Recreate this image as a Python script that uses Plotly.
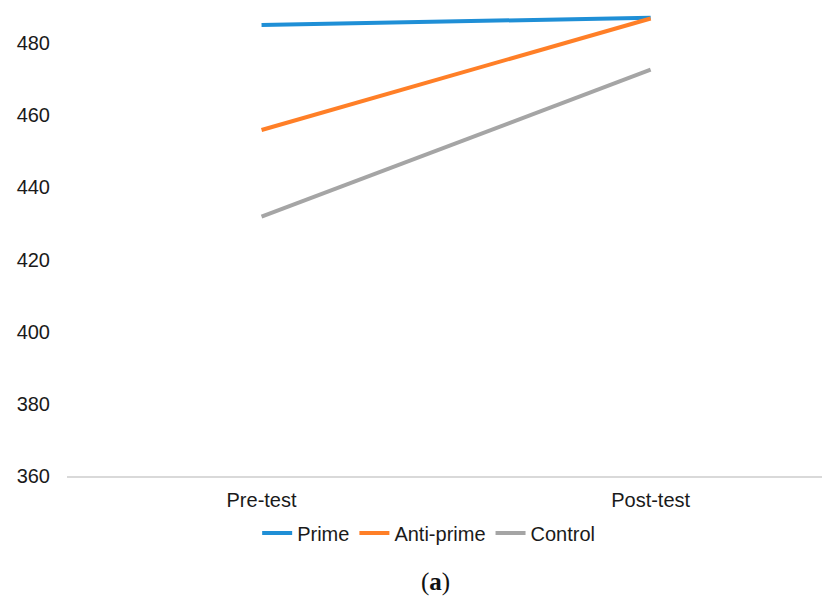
import plotly.graph_objects as go

categories = ["Pre-test", "Post-test"]
prime = [485.0, 487.0]
anti_prime = [455.9, 486.8]
control = [431.9, 472.6]
series_names = ["Prime", "Anti-prime", "Control"]
colors = ["#1f8fd6", "#ff7f27", "#a5a5a5"]
y_ticks = [360, 380, 400, 420, 440, 460, 480]

fig = go.Figure()
for name, vals, col in zip(series_names, [prime, anti_prime, control], colors):
    fig.add_trace(go.Scatter(x=categories, y=vals, mode="lines", name=name,
                             line=dict(color=col, width=4)))

font = dict(family="Liberation Sans, Arial, sans-serif", size=20, color="#1a1a1a")
fig.update_layout(
    width=822, height=588,
    margin=dict(l=59, r=0, t=0, b=120),
    paper_bgcolor="white", plot_bgcolor="white",
    font=font,
    xaxis=dict(type="category", range=[-0.5, 1.461], showgrid=False,
               showline=True, linecolor="#d9d9d9", linewidth=1.5,
               ticks="", ticklabelstandoff=5, tickfont=font, zeroline=False),
    yaxis=dict(range=[360, 489.7], tickvals=y_ticks, showgrid=False,
               showline=False, zeroline=False, ticks="",
               ticklabelstandoff=16, tickfont=font),
    legend=dict(orientation="h", x=0.474, xanchor="center", y=-0.122, yanchor="middle",
                font=font, itemwidth=30, tracegroupgap=0),
    showlegend=True,
)
fig.add_annotation(text="(<b>a</b>)", xref="paper", yref="paper",
                   x=0.4836, y=-0.2265, showarrow=False,
                   font=dict(family="Liberation Serif, Times New Roman, serif", size=25, color="#111111"),
                   xanchor="center", yanchor="middle")
fig.write_html("out.html")
